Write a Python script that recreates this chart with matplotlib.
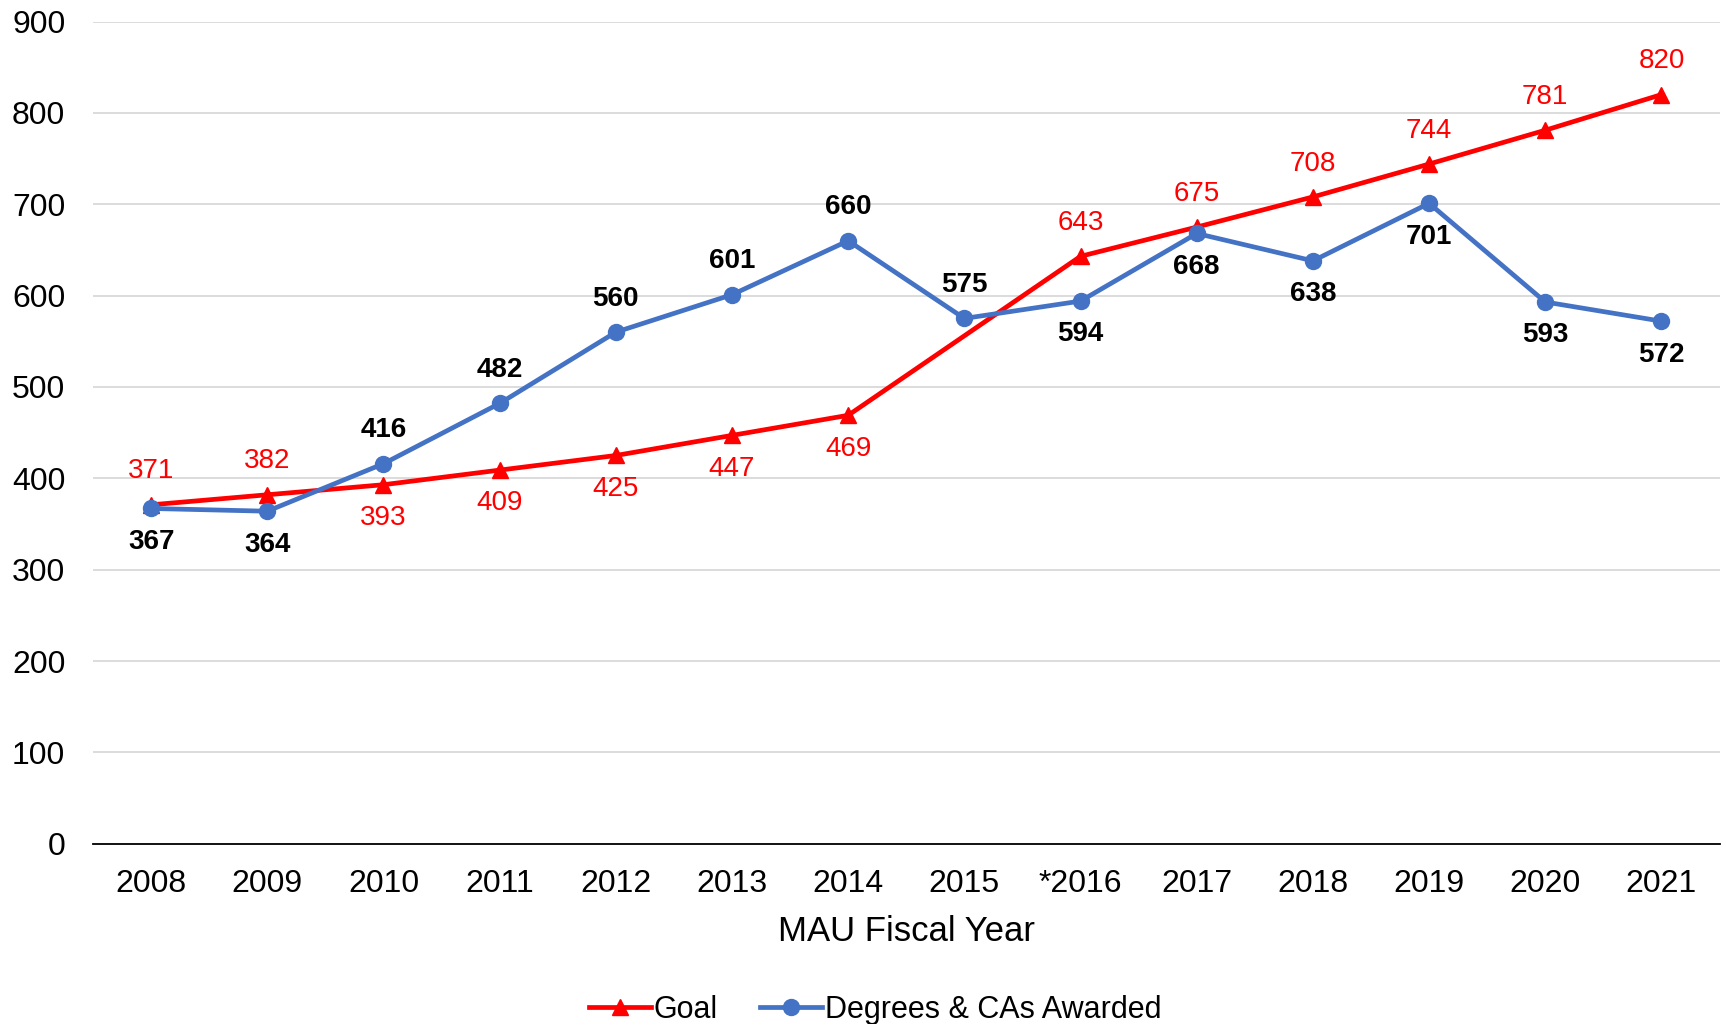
import numpy as np
import matplotlib.pyplot as plt

plt.rcParams['font.family'] = ['Liberation Sans', 'DejaVu Sans']

years = ['2008', '2009', '2010', '2011', '2012', '2013', '2014', '2015',
         '*2016', '2017', '2018', '2019', '2020', '2021']
goal = [371, 382, 393, 409, 425, 447, 469, np.nan, 643, 675, 708, 744, 781, 820]
awarded = [367, 364, 416, 482, 560, 601, 660, 575, 594, 668, 638, 701, 593, 572]

# label above (+1) or below (-1) the point
goal_pos = [1, 1, -1, -1, -1, -1, -1, 0, 1, 1, 1, 1, 1, 1]
award_pos = [-1, -1, 1, 1, 1, 1, 1, 1, -1, -1, -1, -1, -1, -1]

red = '#FF0000'
blue = '#4472C4'

fig = plt.figure(figsize=(17.23, 10.24), dpi=100)
ax = fig.add_axes([0.054, 0.176, 0.944, 0.803])

x = np.arange(len(years))
g = np.array(goal)
ok = ~np.isnan(g)
ax.plot(x[ok], g[ok], color=red, lw=3.4, marker='^', ms=12, label='Goal', zorder=3)
ax.plot(x, awarded, color=blue, lw=3.4, marker='o', ms=11.5,
        label='Degrees & CAs Awarded', zorder=4)

for i, v in enumerate(goal):
    if np.isnan(v):
        continue
    ax.annotate(f'{int(v)}', (i, v), xytext=(0, 24 * goal_pos[i]),
                textcoords='offset points', ha='center', va='center',
                color=red, fontsize=20)
for i, v in enumerate(awarded):
    ax.annotate(f'{v}', (i, v), xytext=(0, 24 * award_pos[i]),
                textcoords='offset points', ha='center', va='center',
                color='black', fontsize=20, fontweight='bold')

ax.set_xlim(-0.5, 13.5)
ax.set_ylim(0, 900)
ax.set_yticks(range(0, 901, 100))
ax.set_xticks(x)
ax.set_xticklabels(years)
ax.tick_params(axis='both', length=0, labelsize=23)
ax.tick_params(axis='x', pad=18)
ax.tick_params(axis='y', pad=20)
ax.grid(axis='y', color='#D9D9D9', lw=1.3)
ax.set_axisbelow(True)
for s in ['top', 'right', 'left']:
    ax.spines[s].set_visible(False)
ax.spines['bottom'].set_color('black')
ax.spines['bottom'].set_linewidth(1.3)
ax.set_xlabel('MAU Fiscal Year', fontsize=25, labelpad=12)

fig.legend(loc='lower center', bbox_to_anchor=(0.508, -0.028), ncol=2,
           frameon=False, fontsize=22, handlelength=2.0, handletextpad=0.1,
           columnspacing=1.4)

fig.savefig('out.png', dpi=100)
